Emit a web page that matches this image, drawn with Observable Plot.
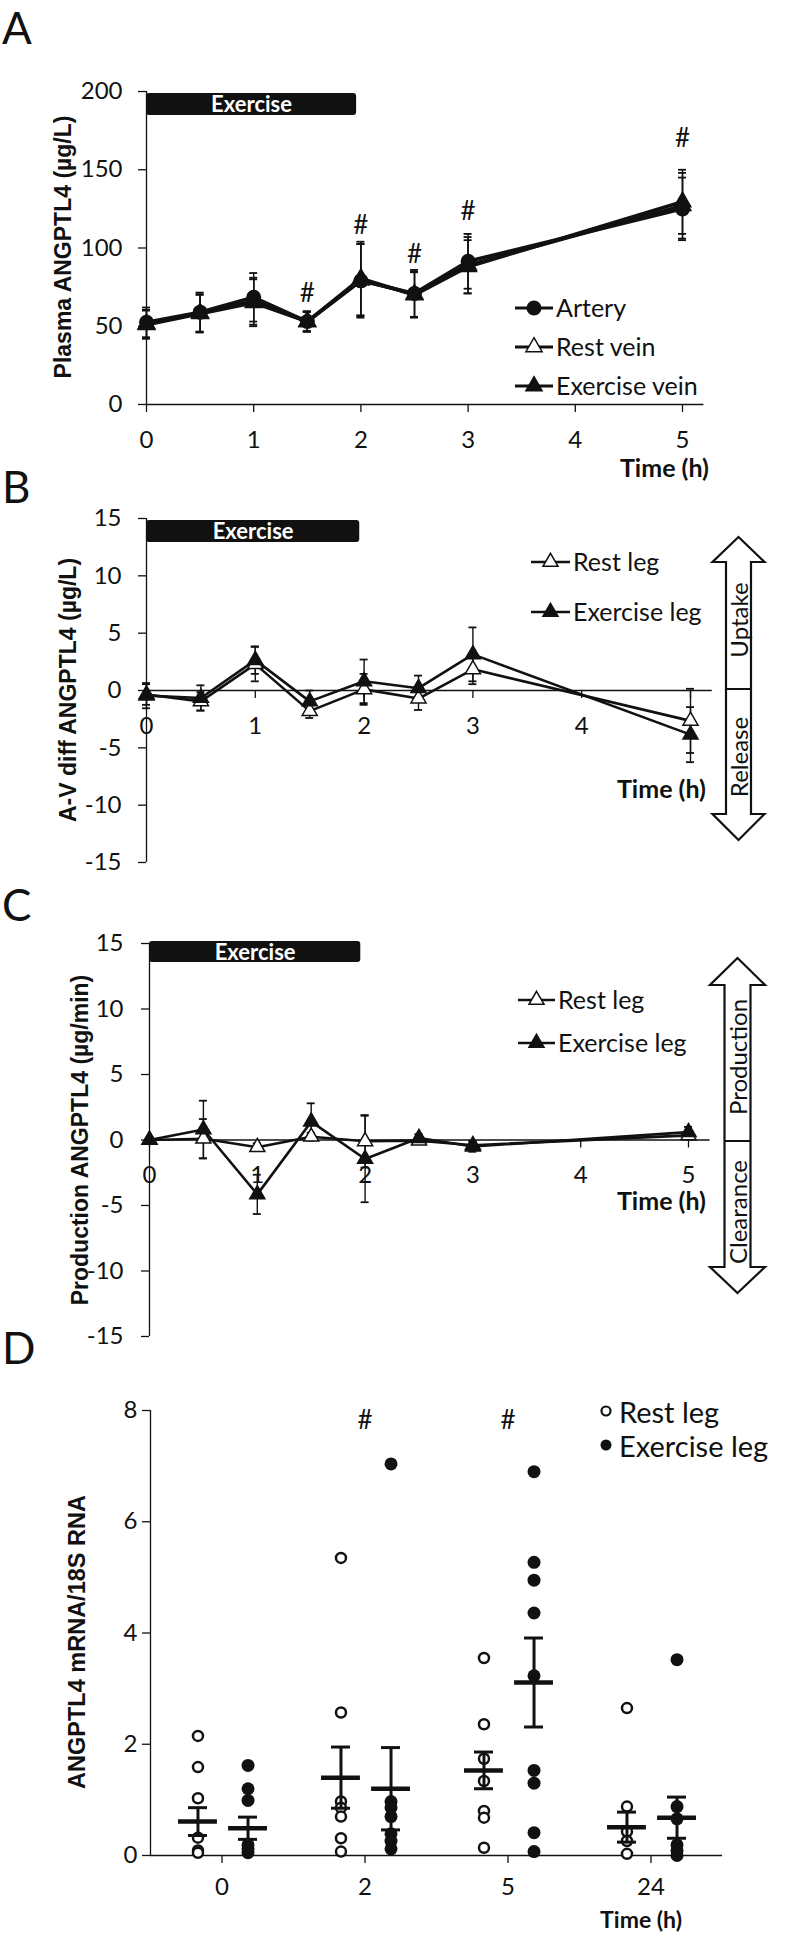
<!DOCTYPE html>
<html><head><meta charset="utf-8">
<script src="https://cdn.jsdelivr.net/npm/d3@7"></script>
<script src="https://cdn.jsdelivr.net/npm/@observablehq/plot@0.6"></script>
<style>
body{margin:0;background:#fff;}
#root{position:relative;width:787px;height:1952px;overflow:hidden;background:#fff;}
</style></head><body><div id="root"></div>
<script>
// ---------- DATA ----------
const timesA = [0, 0.5, 1, 1.5, 2, 2.5, 3, 5];
const arteryMean   = [52.5, 59, 68.5, 53, 79, 71, 91.5, 125];
const arteryErr    = [9.5, 12.5, 15.5, 6.5, 23.5, 15, 17.5, 20];
const restVeinMean = [51.5, 58.5, 66, 53, 79.5, 70.5, 89, 127];
const restVeinErr  = [9, 12, 15, 6.5, 23, 14.5, 18, 21];
const exVeinMean   = [51, 58, 65, 53, 80.5, 70, 88, 129.5];
const exVeinErr    = [9, 12, 15, 6, 23.5, 14.5, 17, 20.5];
const sigTimesA = [1.5, 2, 2.5, 3, 5];
const sigYA     = [71, 114, 96, 123, 170];

const timesB = [0, 0.5, 1, 1.5, 2, 2.5, 3, 5];
const avRestMean = [-0.35, -0.95, 2.3, -1.8, 0.1, -0.7, 1.85, -2.65];
const avRestErr  = [0.9, 0.8, 1.5, 0.6, 1.35, 1.0, 1.3, 2.8];
const avExMean   = [-0.45, -0.65, 2.65, -0.95, 0.8, 0.2, 3.15, -3.85];
const avExErr    = [1.1, 1.1, 1.2, 0.95, 1.9, 1.1, 2.35, 2.4];

const timesC = [0, 0.5, 1, 1.5, 2, 2.5, 3, 5];
const prodRestMean = [0, 0.1, -0.55, 0.25, -0.1, -0.05, -0.4, 0.35];
const prodRestErr  = [0.1, 1.5, 0.3, 0.3, 2.0, 0.2, 0.3, 0.3];
const prodExMean   = [0, 0.8, -4.15, 1.4, -1.45, 0.15, -0.5, 0.6];
const prodExErr    = [0.1, 2.2, 1.5, 1.4, 3.3, 0.3, 0.4, 0.4];

const mrnaTimes = ["0", "2", "5", "24"];
const mrnaRestPoints = [[2.15,1.59,1.03,0.32,0.09,0.05],[5.35,2.57,0.97,0.86,0.7,0.31,0.07],[3.55,2.36,1.74,1.34,0.8,0.68,0.14],[2.65,0.88,0.43,0.26,0.03]];
const mrnaExPoints   = [[1.62,1.2,0.99,0.19,0.12,0.05],[7.04,0.97,0.86,0.7,0.39,0.26,0.12],[6.9,5.27,4.95,4.36,3.23,1.53,1.3,0.41,0.07],[3.52,0.88,0.66,0.19,0.09,0.0]];
const mrnaRestMean = [0.61, 1.40, 1.53, 0.51];
const mrnaRestSem  = [0.25, 0.55, 0.33, 0.27];
const mrnaExMean   = [0.49, 1.20, 3.11, 0.68];
const mrnaExSem    = [0.20, 0.74, 0.80, 0.37];
const sigIdxD = [1, 2];
const sigYD = [7.82, 7.82];

const exerciseWindow = {start: 0, end: 1.96, label: "Exercise"};

// ---------- HELPERS ----------
const INK = "#111";
const FONT = "Lato, 'Open Sans', sans-serif";
const TITLE_FONT = "'Liberation Sans', Arial, sans-serif";
const root = document.getElementById("root");
function place(el, top) {
  el.style.position = "absolute"; el.style.left = "0px"; el.style.top = top + "px";
  root.appendChild(el);
}
function rows(times, mean, err) { return times.map((t, i) => ({t, v: mean[i], e: err[i]})); }
const baseStyle = {fontFamily: FONT, fontSize: "24px", background: "transparent", overflow: "visible", color: INK};

function timePanel(c) {
  const marks = [];
  const yTop = c.yDomain[1], yBot = c.yDomain[0];
  marks.push(Plot.rect([exerciseWindow], {x1: d => d.start, x2: d => d.end, y1: () => yTop, y2: () => yTop,
    insetTop: c.barInsetTop, insetBottom: c.barInsetBottom, fill: INK, rx: 3}));
  marks.push(Plot.text([exerciseWindow], {x: d => (d.start + d.end) / 2, y: () => yTop, dy: c.barDy, text: d => d.label,
    fill: "white", fontWeight: "bold", fontSize: 22}));
  marks.push(Plot.ruleX([0], {x: d => d, y1: () => yBot, y2: () => yTop, stroke: INK, strokeWidth: 1.3}));
  marks.push(Plot.ruleY([0], {y: d => d, x1: () => 0, x2: () => c.axisEnd, stroke: INK, strokeWidth: 1.3}));
  marks.push(Plot.ruleY(c.yTicks, {y: d => d, x1: () => 0, x2: () => 0, insetLeft: -8, stroke: INK, strokeWidth: 1.3}));
  marks.push(Plot.text(c.yTicks, {x: () => 0, y: d => d, text: d => String(d), dx: -c.yGap, textAnchor: "end", fontSize: 24}));
  marks.push(Plot.ruleX(c.xTicks, {x: d => d, y1: () => 0, y2: () => 0, insetBottom: -8, stroke: INK, strokeWidth: 1.3}));
  marks.push(Plot.text(c.xLabels, {x: d => d, y: () => 0, text: d => String(d), dy: c.xDy, fontSize: 24}));
  for (const s of c.series) {
    marks.push(Plot.ruleX(s.rows, {x: "t", y1: d => d.v - d.e, y2: d => d.v + d.e, stroke: INK, strokeWidth: 1.4}));
    marks.push(Plot.ruleY(s.rows, {y: d => d.v + d.e, x1: "t", x2: "t", insetLeft: -4, insetRight: -4, stroke: INK, strokeWidth: 1.8}));
    marks.push(Plot.ruleY(s.rows, {y: d => d.v - d.e, x1: "t", x2: "t", insetLeft: -4, insetRight: -4, stroke: INK, strokeWidth: 1.8}));
  }
  for (const s of c.series) marks.push(Plot.line(s.rows, {x: "t", y: "v", stroke: INK, strokeWidth: c.lineWidth}));
  for (const s of c.series) {
    if (s.symbol === "circle") marks.push(Plot.dot(s.rows, {x: "t", y: "v", r: s.r, fill: INK}));
    else marks.push(Plot.dot(s.rows, {x: "t", y: "v", symbol: "triangle", r: s.r, fill: s.fill, stroke: INK, strokeWidth: 1.5}));
  }
  if (c.sig) marks.push(Plot.text(c.sig, {x: "t", y: "y", text: () => "#", fontSize: 26}));
  return Plot.plot({
    width: 787, height: c.height, marginTop: c.mt, marginBottom: c.mb, marginLeft: c.ml, marginRight: c.mr,
    x: {domain: [0, 5], axis: null}, y: {domain: c.yDomain, axis: null},
    style: baseStyle, marks
  });
}

// ---------- PANEL A ----------
place(timePanel({
  height: 480, mt: 91, mb: 76, ml: 146, mr: 105, yDomain: [0, 200], yTicks: [0, 50, 100, 150, 200], yGap: 24,
  xTicks: [0, 1, 2, 3, 4, 5], xLabels: [0, 1, 2, 3, 4, 5], xDy: 36, axisEnd: 5.2,
  barInsetTop: 2, barInsetBottom: -24, barDy: 13, lineWidth: 3.6,
  series: [
    {rows: rows(timesA, restVeinMean, restVeinErr), symbol: "triangle", fill: "white", r: 6.2},
    {rows: rows(timesA, exVeinMean, exVeinErr), symbol: "triangle", fill: INK, r: 6.2},
    {rows: rows(timesA, arteryMean, arteryErr), symbol: "circle", r: 7.5}
  ],
  sig: sigTimesA.map((t, i) => ({t, y: sigYA[i]}))
}), 0);

// ---------- PANEL B ----------
place(timePanel({
  height: 400, mt: 38, mb: 18, ml: 146, mr: 97, yDomain: [-15, 15], yTicks: [-15, -10, -5, 0, 5, 10, 15], yGap: 25,
  xTicks: [0, 1, 2, 3, 4, 5], xLabels: [0, 1, 2, 3, 4], xDy: 36, axisEnd: 5.2,
  barInsetTop: 2, barInsetBottom: -24, barDy: 13, lineWidth: 2.6,
  series: [
    {rows: rows(timesB, avRestMean, avRestErr), symbol: "triangle", fill: "white", r: 5.6},
    {rows: rows(timesB, avExMean, avExErr), symbol: "triangle", fill: INK, r: 5.6}
  ]
}), 480);

// ---------- PANEL C ----------
place(timePanel({
  height: 470, mt: 63, mb: 14, ml: 149, mr: 99, yDomain: [-15, 15], yTicks: [-15, -10, -5, 0, 5, 10, 15], yGap: 26,
  xTicks: [0, 1, 2, 3, 4, 5], xLabels: [0, 1, 2, 3, 4, 5], xDy: 35, axisEnd: 5.2,
  barInsetTop: -2, barInsetBottom: -19, barDy: 9, lineWidth: 2.6,
  series: [
    {rows: rows(timesC, prodRestMean, prodRestErr), symbol: "triangle", fill: "white", r: 5.6},
    {rows: rows(timesC, prodExMean, prodExErr), symbol: "triangle", fill: INK, r: 5.6}
  ]
}), 880);

// ---------- PANEL D ----------
{
  const restOff = -0.168, exOff = 0.182, halfBar = 0.136;
  const restPts = mrnaRestPoints.flatMap((a, i) => a.map(v => ({i, v})));
  const exPts = mrnaExPoints.flatMap((a, i) => a.map(v => ({i, v})));
  const meanRows = [
    ...mrnaRestMean.map((m, i) => ({i, x: i + restOff, m, s: mrnaRestSem[i]})),
    ...mrnaExMean.map((m, i) => ({i, x: i + exOff, m, s: mrnaExSem[i]}))
  ];
  const idx = mrnaTimes.map((_, i) => i);
  const yTicks = [0, 2, 4, 6, 8];
  const svg = Plot.plot({
    width: 787, height: 602, marginTop: 60, marginBottom: 97, marginLeft: 150, marginRight: 65,
    x: {domain: [-0.5, 3.5], axis: null}, y: {domain: [0, 8], axis: null},
    style: baseStyle,
    marks: [
      Plot.ruleX([-0.5], {x: d => d, y1: () => 0, y2: () => 8, stroke: INK, strokeWidth: 1.3}),
      Plot.ruleY([0], {y: d => d, x1: () => -0.5, x2: () => 3.5, stroke: INK, strokeWidth: 1.3}),
      Plot.ruleY(yTicks, {y: d => d, x1: () => -0.5, x2: () => -0.5, insetLeft: -8, stroke: INK, strokeWidth: 1.3}),
      Plot.text(yTicks, {x: () => -0.5, y: d => d, text: d => String(d), dx: -13, textAnchor: "end", fontSize: 24}),
      Plot.ruleX(idx, {x: d => d, y1: () => 0, y2: () => 0, insetBottom: -8, stroke: INK, strokeWidth: 1.3}),
      Plot.text(idx, {x: d => d, y: () => 0, text: d => mrnaTimes[d], dy: 32, fontSize: 24}),
      Plot.dot(restPts, {x: d => d.i + restOff, y: "v", r: 5, fill: "white", stroke: INK, strokeWidth: 2.5}),
      Plot.dot(exPts, {x: d => d.i + exOff, y: "v", r: 6.5, fill: INK}),
      Plot.ruleY(meanRows, {y: "m", x1: d => d.x - halfBar, x2: d => d.x + halfBar, stroke: INK, strokeWidth: 4.5}),
      Plot.ruleX(meanRows, {x: "x", y1: d => d.m - d.s, y2: d => d.m + d.s, stroke: INK, strokeWidth: 3}),
      Plot.ruleY(meanRows, {y: d => d.m + d.s, x1: "x", x2: "x", insetLeft: -9.5, insetRight: -9.5, stroke: INK, strokeWidth: 3}),
      Plot.ruleY(meanRows, {y: d => d.m - d.s, x1: "x", x2: "x", insetLeft: -9.5, insetRight: -9.5, stroke: INK, strokeWidth: 3}),
      Plot.text(sigIdxD.map((i, k) => ({i, y: sigYD[k]})), {x: "i", y: "y", text: () => "#", fontSize: 26})
    ]
  });
  place(svg, 1350);
}

// ---------- ANNOTATION OVERLAY ----------
const ov = d3.create("svg").attr("width", 787).attr("height", 1952)
  .style("position", "absolute").style("left", "0px").style("top", "0px")
  .style("font-family", FONT).attr("fill", INK);

// panel letters
[["A", 44], ["B", 503], ["C", 921], ["D", 1364]].forEach(([t, y]) =>
  ov.append("text").attr("x", 2).attr("y", y).attr("font-size", 44).text(t));

// y titles
function yTitle(label, cx, cy, fs) {
  ov.append("text").attr("transform", `translate(${cx},${cy}) rotate(-90)`).attr("y", 0.36 * fs)
    .attr("text-anchor", "middle").attr("font-family", TITLE_FONT).attr("font-weight", "bold")
    .attr("font-size", fs).text(label);
}
yTitle("Plasma ANGPTL4 (µg/L)", 63, 247, 23);
yTitle("A-V diff ANGPTL4 (µg/L)", 68, 690, 23);
yTitle("Production ANGPTL4 (µg/min)", 80, 1140, 23);
yTitle("ANGPTL4 mRNA/18S RNA", 77, 1642, 23.5);

// Time (h)
[[709, 477, 25], [706, 798, 25], [706, 1210, 25], [682, 1928, 23]].forEach(([x, y, fs]) =>
  ov.append("text").attr("x", x).attr("y", y).attr("text-anchor", "end").attr("font-weight", "bold")
    .attr("font-size", fs).text("Time (h)"));

// legends
function legendItem(x1, x2, cy, kind, label, tx, fs, r, lw) {
  ov.append("line").attr("x1", x1).attr("x2", x2).attr("y1", cy).attr("y2", cy).attr("stroke", INK).attr("stroke-width", lw);
  const cx = (x1 + x2) / 2;
  if (kind === "circle") ov.append("circle").attr("cx", cx).attr("cy", cy).attr("r", r).attr("fill", INK);
  else ov.append("path").attr("d", d3.symbol(d3.symbolTriangle, r * r * Math.PI)())
    .attr("transform", `translate(${cx},${cy})`).attr("fill", kind === "open" ? "white" : INK)
    .attr("stroke", INK).attr("stroke-width", 1.5);
  ov.append("text").attr("x", tx).attr("y", cy + 0.36 * fs).attr("font-size", fs).text(label);
}
legendItem(515, 553, 308, "circle", "Artery", 556, 25, 7.5, 3.2);
legendItem(515, 553, 347, "open", "Rest vein", 556, 25, 6, 3.2);
legendItem(515, 553, 386, "filled", "Exercise vein", 556, 25, 6, 3.2);
legendItem(531, 570, 562, "open", "Rest leg", 573, 25, 5.6, 2.6);
legendItem(531, 570, 612, "filled", "Exercise leg", 573, 25, 5.6, 2.6);
legendItem(518, 555, 1000, "open", "Rest leg", 558, 25, 5.6, 2.6);
legendItem(518, 555, 1043, "filled", "Exercise leg", 558, 25, 5.6, 2.6);
// panel D legend
ov.append("circle").attr("cx", 606).attr("cy", 1411).attr("r", 4.5).attr("fill", "white").attr("stroke", INK).attr("stroke-width", 2.2);
ov.append("text").attr("x", 619).attr("y", 1413 + 0.36 * 29).attr("font-size", 29).text("Rest leg");
ov.append("circle").attr("cx", 606).attr("cy", 1445).attr("r", 5.5).attr("fill", INK);
ov.append("text").attr("x", 619).attr("y", 1447 + 0.36 * 29).attr("font-size", 29).text("Exercise leg");

// double arrows
function dblArrow(cx, tipTop, baseTop, baseBot, tipBot, hw, sw, midY, upLabel, upY, downLabel, downY) {
  const p = [[cx, tipTop], [cx + hw, baseTop], [cx + sw, baseTop], [cx + sw, baseBot], [cx + hw, baseBot], [cx, tipBot],
    [cx - hw, baseBot], [cx - sw, baseBot], [cx - sw, baseTop], [cx - hw, baseTop]];
  ov.append("path").attr("d", "M" + p.map(q => q.join(",")).join("L") + "Z").attr("fill", "white")
    .attr("stroke", INK).attr("stroke-width", 2.2).attr("stroke-linejoin", "miter");
  ov.append("line").attr("x1", cx - sw).attr("x2", cx + sw).attr("y1", midY).attr("y2", midY).attr("stroke", INK).attr("stroke-width", 2);
  [[upLabel, upY], [downLabel, downY]].forEach(([t, y]) =>
    ov.append("text").attr("transform", `translate(${cx + 1},${y}) rotate(-90)`).attr("y", 0.36 * 24)
      .attr("text-anchor", "middle").attr("font-size", 24).text(t));
}
dblArrow(738.5, 537, 562, 814, 840, 26, 12.5, 689, "Uptake", 620, "Release", 757);
dblArrow(737.5, 958, 985, 1267, 1293, 27.5, 13, 1141, "Production", 1057, "Clearance", 1212);

root.appendChild(ov.node());
</script>
</body></html>
